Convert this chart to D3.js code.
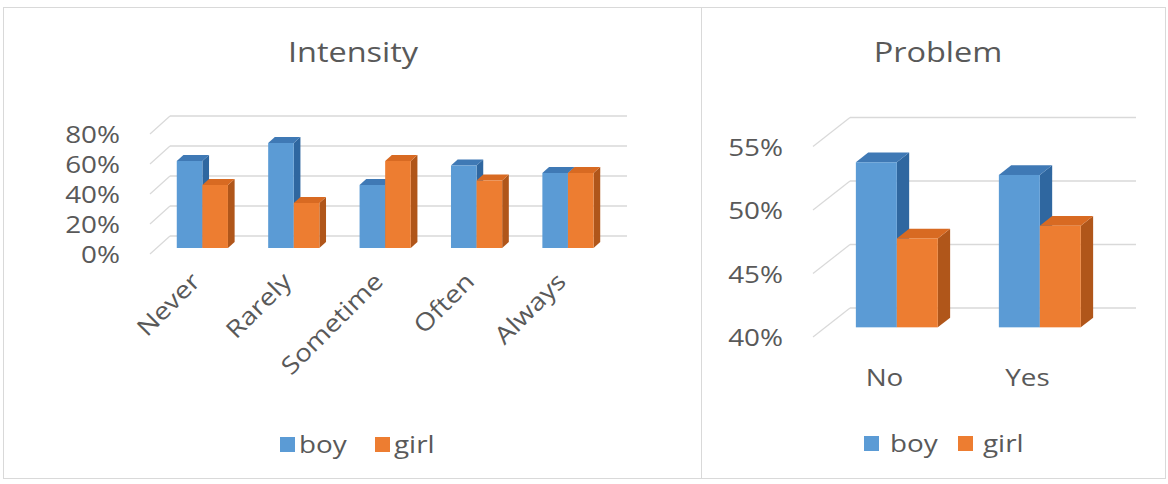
<!DOCTYPE html>
<html>
<head>
<meta charset="utf-8">
<script src="https://cdn.jsdelivr.net/npm/d3@7"></script>
<style>
  html, body { margin: 0; padding: 0; background: #ffffff; }
  svg { display: block; }
  text { font-family: "Open Sans", "DejaVu Sans", sans-serif; fill: #595959; }
</style>
</head>
<body>
<svg id="chart" width="1168" height="484"></svg>
<script>
// ---- data ----
const seriesNames = ["boy", "girl"];

const intensityCategories = ["Never", "Rarely", "Sometime", "Often", "Always"];
const intensityBoy  = [0.58, 0.70, 0.42, 0.55, 0.50];
const intensityGirl = [0.42, 0.30, 0.58, 0.45, 0.50];
const intensityTicks = [0, 0.2, 0.4, 0.6, 0.8];

const problemCategories = ["No", "Yes"];
const problemBoy  = [0.53, 0.52];
const problemGirl = [0.47, 0.48];
const problemTicks = [0.40, 0.45, 0.50, 0.55];

// ---- styling ----
const faceColors = {
  boy:  { front: "#5B9BD5", top: "#3F79B5", side: "#2F67A0" },
  girl: { front: "#ED7D31", top: "#D86A22", side: "#B0561A" }
};
const gridColor = "#D9D9D9";
const pct = d3.format(".0%");
const STRETCH = 1.16;   // slightly wide lettering

const svg = d3.select("#chart");

// positions a text element with a horizontal stretch
function placeText(sel, x, y, rot) {
  return sel.attr("transform", (d, i) => {
    const px = typeof x === "function" ? x(d, i) : x;
    const py = typeof y === "function" ? y(d, i) : y;
    return `translate(${px},${py})` + (rot ? ` rotate(${rot})` : "") + ` scale(${STRETCH},1)`;
  });
}

// panel frames
svg.append("rect").attr("x", 3.5).attr("y", 7.5).attr("width", 698).attr("height", 471)
  .attr("fill", "none").attr("stroke", gridColor);
svg.append("rect").attr("x", 701.5).attr("y", 7.5).attr("width", 464).attr("height", 471)
  .attr("fill", "none").attr("stroke", gridColor);

// A clustered 3-D column chart: front floor edge from x0 to x1,
// value axis along the front-left edge, depth vector (dx, dy).
function columnChart3D(cfg) {
  const g = svg.append("g");
  const { x0, x1, yRange, domain, depth, cats, rows, ticks, padding } = cfg;

  const x = d3.scaleBand().domain(cats).range([x0, x1])
    .paddingInner(padding).paddingOuter(padding / 2);
  const xs = d3.scaleBand().domain(seriesNames).range([0, x.bandwidth()]);
  const y = d3.scaleLinear().domain(domain).range(yRange);

  const [dx, dy] = depth;

  // back wall gridlines and left side-wall lines
  g.append("g").selectAll("line").data(ticks).join("line")
    .attr("x1", x0 + dx).attr("x2", x1 + dx)
    .attr("y1", d => y(d) + dy).attr("y2", d => y(d) + dy)
    .attr("stroke", gridColor).attr("stroke-width", 1.5);
  g.append("g").selectAll("line").data(ticks).join("line")
    .attr("x1", x0).attr("x2", x0 + dx)
    .attr("y1", d => y(d)).attr("y2", d => y(d) + dy)
    .attr("stroke", gridColor).attr("stroke-width", 1.2);

  // value-axis labels
  placeText(
    g.append("g").selectAll("text").data(ticks).join("text")
      .attr("text-anchor", "end").attr("dominant-baseline", "central")
      .style("font-size", cfg.fontSize + "px")
      .text(pct),
    x0 - 30, d => y(d));

  // bars sit in the middle third of the depth
  const ox = dx / 3, oy = dy / 3;     // front face offset
  const bx = dx / 3, by = dy / 3;     // bar thickness
  const bars = [];
  cats.forEach((c, i) => {
    seriesNames.forEach((s, j) => {
      bars.push({ cat: c, series: s, value: rows[j][i] });
    });
  });
  const base = domain[0];
  const bg = g.append("g");
  bars.forEach(b => {
    const left = x(b.cat) + xs(b.series) + ox;
    const right = left + xs.bandwidth();
    const top = y(b.value) + oy;
    const bottom = y(base) + oy;
    const col = faceColors[b.series];
    bg.append("path")
      .attr("d", `M${right},${bottom}L${right + bx},${bottom + by}L${right + bx},${top + by}L${right},${top}Z`)
      .attr("fill", col.side);
    bg.append("path")
      .attr("d", `M${left},${top}L${left + bx},${top + by}L${right + bx},${top + by}L${right},${top}Z`)
      .attr("fill", col.top);
    bg.append("rect")
      .attr("x", left).attr("y", top)
      .attr("width", xs.bandwidth()).attr("height", bottom - top)
      .attr("fill", col.front);
  });

  return { g, x };
}

// ---- Intensity ----
const left = columnChart3D({
  x0: 150, x1: 607, yRange: [254, 134], domain: [0, 0.8], depth: [20, -18],
  cats: intensityCategories, rows: [intensityBoy, intensityGirl],
  ticks: intensityTicks, padding: 0.44, fontSize: 24
});
placeText(
  left.g.append("g").selectAll("text").data(intensityCategories).join("text")
    .attr("text-anchor", "end")
    .style("font-size", "24px")
    .text(d => d),
  d => left.x(d) + left.x.bandwidth() / 2 + 6, 283, -45);
placeText(
  svg.append("text").attr("text-anchor", "middle").attr("dominant-baseline", "central")
    .style("font-size", "28px").text("Intensity"),
  353, 51);

// ---- Problem ----
const right = columnChart3D({
  x0: 813, x1: 1099, yRange: [337, 146.5], domain: [0.40, 0.55], depth: [37, -29],
  cats: problemCategories, rows: [problemBoy, problemGirl],
  ticks: problemTicks, padding: 0.427, fontSize: 24
});
placeText(
  right.g.append("g").selectAll("text").data(problemCategories).join("text")
    .attr("text-anchor", "middle").attr("dominant-baseline", "central")
    .style("font-size", "24px")
    .text(d => d),
  d => right.x(d) + right.x.bandwidth() / 2, 377);
placeText(
  svg.append("text").attr("text-anchor", "middle").attr("dominant-baseline", "central")
    .style("font-size", "28px").text("Problem"),
  938, 51);

// ---- legends ----
function legend(items) {
  const lg = svg.append("g");
  items.forEach(it => {
    lg.append("rect").attr("x", it.sx).attr("y", it.sy).attr("width", 15).attr("height", 15)
      .attr("fill", faceColors[it.name].front);
    placeText(
      lg.append("text").attr("dominant-baseline", "central")
        .style("font-size", "24px").text(it.name),
      it.tx, it.sy + 7);
  });
}
legend([
  { name: seriesNames[0], sx: 280, sy: 437, tx: 299 },
  { name: seriesNames[1], sx: 375, sy: 437, tx: 394 }
]);
legend([
  { name: seriesNames[0], sx: 864, sy: 436, tx: 890 },
  { name: seriesNames[1], sx: 958, sy: 436, tx: 983 }
]);
</script>
</body>
</html>
